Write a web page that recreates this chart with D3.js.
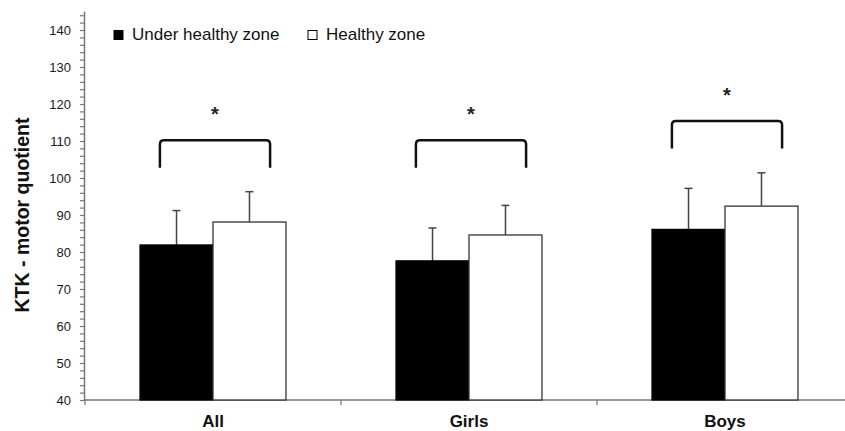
<!DOCTYPE html>
<html>
<head>
<meta charset="utf-8">
<script src="https://cdn.jsdelivr.net/npm/d3@7"></script>
<style>
html,body{margin:0;padding:0;background:#fff;}
svg{display:block;font-family:"Liberation Sans", Arial, sans-serif;}
</style>
</head>
<body>
<svg id="chart" width="845" height="431"></svg>
<script>
const categories = ["All", "Girls", "Boys"];
const seriesNames = ["Under healthy zone", "Healthy zone"];
const underMeans = [81.9, 77.6, 86.1];
const underSD = [9.3, 8.9, 11.1];
const healthyMeans = [88.1, 84.6, 92.4];
const healthySD = [8.2, 8.0, 9.0];
const bracketTop = [110.2, 110.2, 115.4];
const bracketBottom = [102.8, 102.8, 108.0];
const sigLabels = ["*", "*", "*"];
const yTicks = [40, 50, 60, 70, 80, 90, 100, 110, 120, 130, 140];
const yTitle = "KTK - motor quotient";

const svg = d3.select("#chart");
const x0 = 85, x1r = 853, yBottom = 400;

const y = d3.scaleLinear().domain([40, 145]).range([yBottom, yBottom - 105 * 3.7]);
const x = d3.scaleBand().domain(categories).range([x0, x1r]).padding(0);
const groupW = x.bandwidth() * 0.57;
const xs = d3.scaleBand().domain(seriesNames).range([0, groupW]).padding(0);
const off = (x.bandwidth() - groupW) / 2;

const rows = categories.map((c, i) => ({
  cat: c,
  vals: [
    {s: seriesNames[0], m: underMeans[i], sd: underSD[i], fill: "#000", stroke: "#000"},
    {s: seriesNames[1], m: healthyMeans[i], sd: healthySD[i], fill: "#fff", stroke: "#333"}
  ],
  bt: bracketTop[i], bb: bracketBottom[i], lab: sigLabels[i]
}));

// Y axis
const minorVals = d3.range(40, 145, 2);
const yAxis = d3.axisLeft(y).tickValues(minorVals).tickSize(5)
  .tickFormat(d => yTicks.includes(d) ? d : "");
const gy = svg.append("g").attr("transform", `translate(${x0},0)`).call(yAxis);
gy.select(".domain").attr("stroke", "#777").attr("stroke-width", 1.5).attr("d", `M-0.5,${yBottom}V${y(145)}`);
gy.selectAll(".tick line").attr("stroke", "#777").attr("stroke-width", 1.2);
gy.selectAll(".tick text").attr("font-size", "13px").attr("fill", "#1a1a1a").attr("x", -14)
  .attr("font-family", "'Liberation Sans', Arial, sans-serif");

// X axis
const xAxis = d3.axisBottom(x).tickSize(0).tickFormat("");
const gx = svg.append("g").attr("transform", `translate(0,${yBottom})`).call(xAxis);
gx.select(".domain").attr("stroke", "#777").attr("stroke-width", 1.5).attr("d", `M${x0 - 1},0H845`);
gx.selectAll(".tick").remove();
const boundaries = categories.map(c => x(c));
gx.selectAll("line.bnd").data(boundaries).join("line").attr("class", "bnd")
  .attr("x1", d => d).attr("x2", d => d).attr("y1", 0).attr("y2", 5)
  .attr("stroke", "#777").attr("stroke-width", 1.2);

// Category labels
svg.selectAll("text.cat").data(categories).join("text").attr("class", "cat")
  .attr("x", d => x(d) + x.bandwidth() / 2).attr("y", 427)
  .attr("text-anchor", "middle").attr("font-size", "17px").attr("font-weight", "bold")
  .attr("fill", "#111").text(d => d);

// Bars
const g = svg.selectAll("g.grp").data(rows).join("g").attr("class", "grp")
  .attr("transform", d => `translate(${x(d.cat) + off},0)`);

// error bars (upper only)
g.selectAll("line.err").data(d => d.vals).join("line").attr("class", "err")
  .attr("x1", d => xs(d.s) + xs.bandwidth() / 2).attr("x2", d => xs(d.s) + xs.bandwidth() / 2)
  .attr("y1", d => y(d.m)).attr("y2", d => y(d.m + d.sd))
  .attr("stroke", "#444").attr("stroke-width", 1.5);
g.selectAll("line.cap").data(d => d.vals).join("line").attr("class", "cap")
  .attr("x1", d => xs(d.s) + xs.bandwidth() / 2 - 4).attr("x2", d => xs(d.s) + xs.bandwidth() / 2 + 4)
  .attr("y1", d => y(d.m + d.sd)).attr("y2", d => y(d.m + d.sd))
  .attr("stroke", "#444").attr("stroke-width", 1.5);

g.selectAll("rect").data(d => d.vals).join("rect")
  .attr("x", d => xs(d.s)).attr("width", xs.bandwidth())
  .attr("y", d => y(d.m)).attr("height", d => yBottom - y(d.m))
  .attr("fill", d => d.fill).attr("stroke", d => d.stroke).attr("stroke-width", 1.3);

// Brackets
const half = xs.bandwidth() * 0.755;
svg.selectAll("path.br").data(rows).join("path").attr("class", "br")
  .attr("d", d => {
    const c = x(d.cat) + x.bandwidth() / 2 + 2;
    const l = c - half, r = c + half, t = y(d.bt), b = y(d.bb), rr = 4;
    return `M${l},${b}L${l},${t + rr}Q${l},${t} ${l + rr},${t}L${r - rr},${t}Q${r},${t} ${r},${t + rr}L${r},${b}`;
  })
  .attr("fill", "none").attr("stroke", "#111").attr("stroke-width", 2.5);

svg.selectAll("text.sig").data(rows).join("text").attr("class", "sig")
  .attr("x", d => x(d.cat) + x.bandwidth() / 2 + 2).attr("y", d => y(d.bt) - 30 + 11)
  .attr("text-anchor", "middle").attr("font-size", "20px").attr("font-weight", "bold")
  .attr("fill", "#222").text(d => d.lab);

// Y title
svg.append("text").attr("transform", "translate(29,215) rotate(-90)")
  .attr("text-anchor", "middle").attr("font-size", "19.5px").attr("font-weight", "bold")
  .attr("fill", "#111").text(yTitle);

// Legend
const leg = svg.append("g");
const legX = [114, 308];
const legFill = ["#000", "#fff"];
seriesNames.forEach((s, i) => {
  leg.append("rect").attr("x", legX[i]).attr("y", 30.5).attr("width", 9).attr("height", 9)
    .attr("fill", legFill[i]).attr("stroke", "#000").attr("stroke-width", 1);
  leg.append("text").attr("x", legX[i] + 18).attr("y", 40).attr("font-size", "17px")
    .attr("fill", "#111").text(s);
});
</script>
</body>
</html>
